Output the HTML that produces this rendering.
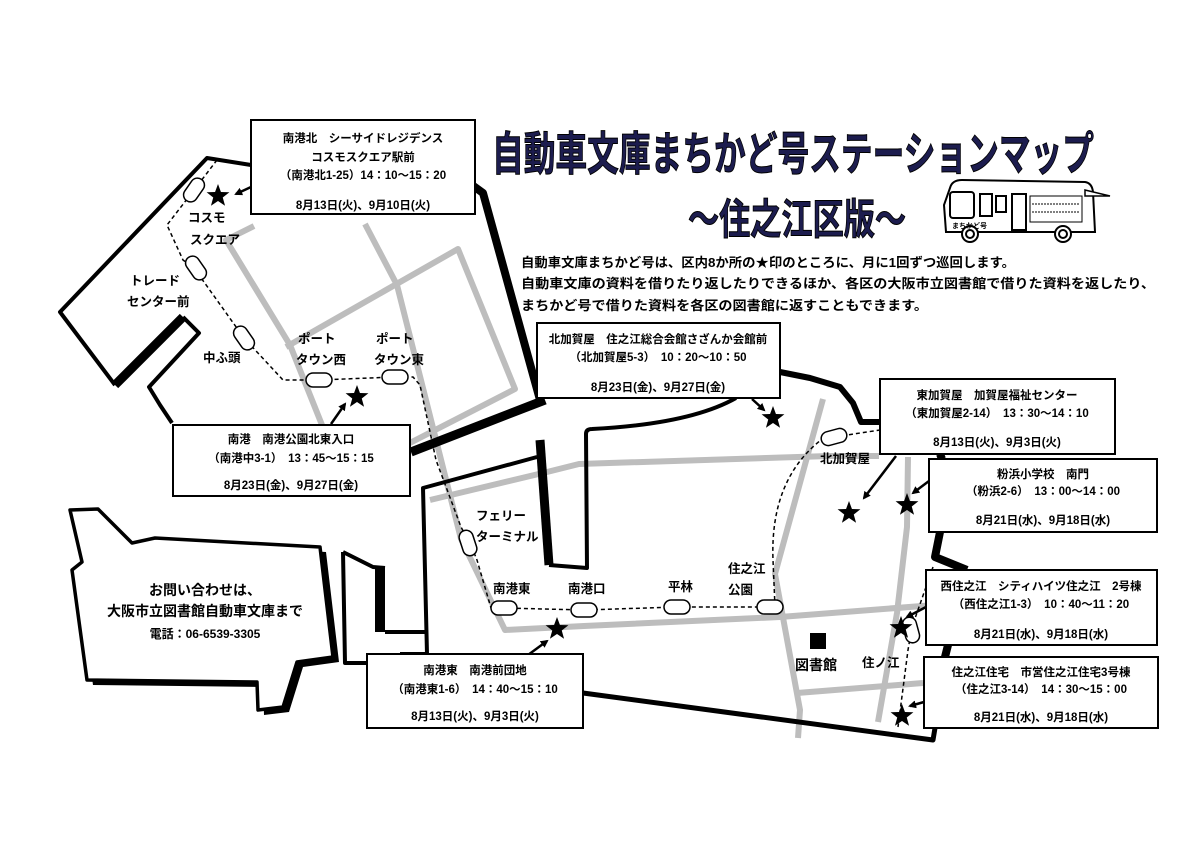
<!DOCTYPE html>
<html><head><meta charset="utf-8"><style>
html,body{margin:0;padding:0;background:#fff;}
svg{display:block;}
text{font-family:"Liberation Sans","Noto Sans CJK JP",sans-serif;font-weight:bold;}
</style></head><body>
<svg width="1200" height="848" viewBox="0 0 1200 848" xmlns="http://www.w3.org/2000/svg">
<defs>
<polygon id="st" points="0,-12 2.94,-4.05 11.41,-3.71 4.76,1.55 7.05,9.71 0,5 -7.05,9.71 -4.76,1.55 -11.41,-3.71 -2.94,-4.05" fill="#000"/>
<marker id="ah" markerWidth="8" markerHeight="8" refX="6" refY="4" orient="auto" markerUnits="userSpaceOnUse"><path d="M0,0 L8,4 L0,8 Z" fill="#000"/></marker>
</defs>
<rect width="1200" height="848" fill="#fff"/>

<!-- gray roads -->
<g fill="none" stroke="#bdbdbd" stroke-width="6" stroke-linejoin="round">
<polyline points="254,226 226,240 290,345 330,445"/>
<polyline points="286,347 458,249 515,389 404,446"/>
<polyline points="365,224 397,285 461,539 505,630 584,626 780,617 935,605"/>
<polyline points="430,500 547,472 579,464 829,456 879,456"/>
<polyline points="823,399 775,574 800,710 798,738"/>
<polyline points="908,457 907,527 897,613 878,722"/>
<polyline points="797,693 923,683"/>
</g>

<!-- coast lines -->
<g fill="none" stroke="#000" stroke-linejoin="round">
<polyline stroke-width="4" points="251,165 207,158 60,312 115,385"/>
<line x1="115" y1="385" x2="183" y2="317" stroke-width="9"/>
<polyline stroke-width="4" points="183,317 199,333 149,387 160,405 172,423"/>
<polyline stroke-width="8" points="472,185 483,193 540,400"/>
<line x1="411" y1="452" x2="545" y2="400" stroke-width="9"/>
<polyline stroke-width="4" points="400,654 427,654 423,488 537,457"/>
<line x1="540" y1="440" x2="549" y2="565" stroke-width="9"/>
<path stroke-width="4" d="M549,565 L587,568 L586,434 Q586,429 592,429 Q690,424 736,398"/>
<polyline stroke-width="6" points="780,372 810,378 840,387 853,403 861,422 880,422"/>
<polyline stroke-width="8" points="940,454 942,459"/>
<polyline stroke-width="8" points="940,532 935,557 967,570"/>
<polyline stroke-width="8" points="948,645 945,657"/>
<polyline stroke-width="5" points="583,693 933,740 935,728"/>
<polyline stroke-width="4" points="343,552 373,567 385,568"/>
<polyline stroke-width="10" points="380,568 380,632"/>
<polyline stroke-width="4" points="385,632 427,632"/>
<polyline stroke-width="4" points="343,552 345,663 367,663"/>
</g>

<!-- contact balloon -->
<polygon points="70,510 98,509 132,543 155,538 320,547 333,657 297,662 283,707 258,710 257,682 87,680 72,570 82,562" fill="#000" transform="translate(6,5)"/>
<polygon points="70,510 98,509 132,543 155,538 320,547 333,657 297,662 283,707 258,710 257,682 87,680 72,570 82,562" fill="#fff" stroke="#000" stroke-width="3.5" stroke-linejoin="round"/>
<text x="205" y="595" font-size="14" text-anchor="middle">お問い合わせは、</text>
<text x="205" y="616" font-size="14" text-anchor="middle">大阪市立図書館自動車文庫まで</text>
<text x="205" y="638" font-size="12" text-anchor="middle">電話：06-6539-3305</text>

<!-- dashed route -->
<g fill="none" stroke="#000" stroke-width="1.5" stroke-dasharray="4,3">
<polyline points="217,160 194,190 167,225 183,260 194,268 244,338 283,380 319,380 394,377 413,377 420,385 436,460 461,527 470,543 477,560 491,608 504,608 584,610 677,607 770,607"/>
<path d="M775,607 L773,560 Q770,480 821,440 L834,437 L880,430"/>
<polyline points="933,567 912,627 908,650 898,727"/>
</g>

<!-- bubbles -->
<g fill="#fff" stroke="#000" stroke-width="1.5">
<rect x="-13" y="-7" width="26" height="14" rx="7" transform="translate(194,190) rotate(-55)"/>
<rect x="-13" y="-7" width="26" height="14" rx="7" transform="translate(196,268) rotate(55)"/>
<rect x="-13" y="-7" width="26" height="14" rx="7" transform="translate(244,338) rotate(55)"/>
<rect x="-13" y="-7" width="26" height="14" rx="7" transform="translate(319,380)"/>
<rect x="-13" y="-7" width="26" height="14" rx="7" transform="translate(395,377)"/>
<rect x="-13" y="-7" width="26" height="14" rx="7" transform="translate(468,543) rotate(72)"/>
<rect x="-13" y="-7" width="26" height="14" rx="7" transform="translate(504,608)"/>
<rect x="-13" y="-7" width="26" height="14" rx="7" transform="translate(584,610)"/>
<rect x="-13" y="-7" width="26" height="14" rx="7" transform="translate(677,607)"/>
<rect x="-13" y="-7" width="26" height="14" rx="7" transform="translate(770,607)"/>
<rect x="-13" y="-7" width="26" height="14" rx="7" transform="translate(834,437) rotate(-15)"/>
<rect x="-13" y="-7" width="26" height="14" rx="7" transform="translate(911,630) rotate(75)"/>
</g>

<!-- map labels -->
<g font-size="12.5">
<text x="188" y="222">コスモ</text>
<text x="190" y="244">スクエア</text>
<text x="130" y="285">トレード</text>
<text x="127" y="306">センター前</text>
<text x="203" y="362">中ふ頭</text>
<text x="298" y="343">ポート</text>
<text x="296" y="364">タウン西</text>
<text x="376" y="343">ポート</text>
<text x="374" y="364">タウン東</text>
<text x="476" y="520">フェリー</text>
<text x="476" y="541">ターミナル</text>
<text x="493" y="593">南港東</text>
<text x="568" y="593">南港口</text>
<text x="668" y="591">平林</text>
<text x="728" y="573">住之江</text>
<text x="728" y="594">公園</text>
<text x="820" y="463">北加賀屋</text>
<text x="795" y="670" font-size="14">図書館</text>
<text x="862" y="667">住ノ江</text>
</g>
<rect x="810" y="633" width="16" height="16" fill="#000"/>

<!-- stars -->
<use href="#st" x="218" y="196"/>
<use href="#st" x="357" y="397"/>
<use href="#st" x="773" y="418"/>
<use href="#st" x="849" y="513"/>
<use href="#st" x="907" y="505"/>
<use href="#st" x="901" y="628"/>
<use href="#st" x="902" y="716"/>
<use href="#st" x="557" y="629"/>

<!-- arrows -->
<g stroke="#000" stroke-width="2.5" marker-end="url(#ah)">
<line x1="251" y1="187" x2="236" y2="194"/>
<line x1="331" y1="424" x2="345" y2="404"/>
<line x1="752" y1="399" x2="764" y2="410"/>
<line x1="896" y1="456" x2="864" y2="498"/>
<line x1="929" y1="481" x2="913" y2="493"/>
<line x1="926" y1="607" x2="907" y2="617"/>
<line x1="924" y1="702" x2="910" y2="706"/>
<line x1="528" y1="655" x2="547" y2="641"/>
</g>

<!-- boxes -->
<g fill="#fff" stroke="#000" stroke-width="2">
<rect x="251" y="120" width="224" height="94"/>
<rect x="173" y="425" width="237" height="71"/>
<rect x="537" y="323" width="243" height="75"/>
<rect x="880" y="379" width="235" height="75"/>
<rect x="929" y="459" width="228" height="73"/>
<rect x="926" y="570" width="231" height="75"/>
<rect x="924" y="657" width="234" height="71"/>
<rect x="367" y="654" width="216" height="74"/>
</g>
<g font-size="11.5" text-anchor="middle">
<text x="363" y="142">南港北　シーサイドレジデンス</text>
<text x="363" y="161">コスモスクエア駅前</text>
<text x="363" y="179">（南港北1-25）14：10～15：20</text>
<text x="363" y="209">8月13日(火)、9月10日(火)</text>

<text x="291" y="443">南港　南港公園北東入口</text>
<text x="291" y="462">（南港中3-1）　13：45～15：15</text>
<text x="291" y="489">8月23日(金)、9月27日(金)</text>

<text x="658" y="343">北加賀屋　住之江総合会館さざんか会館前</text>
<text x="658" y="361">（北加賀屋5-3）　10：20～10：50</text>
<text x="658" y="391">8月23日(金)、9月27日(金)</text>

<text x="997" y="399">東加賀屋　加賀屋福祉センター</text>
<text x="997" y="417">（東加賀屋2-14）　13：30～14：10</text>
<text x="997" y="446">8月13日(火)、9月3日(火)</text>

<text x="1043" y="478">粉浜小学校　南門</text>
<text x="1043" y="495">（粉浜2-6）　13：00～14：00</text>
<text x="1043" y="524">8月21日(水)、9月18日(水)</text>

<text x="1041" y="590">西住之江　シティハイツ住之江　2号棟</text>
<text x="1041" y="608">（西住之江1-3）　10：40～11：20</text>
<text x="1041" y="638">8月21日(水)、9月18日(水)</text>

<text x="1041" y="676">住之江住宅　市営住之江住宅3号棟</text>
<text x="1041" y="693">（住之江3-14）　14：30～15：00</text>
<text x="1041" y="721">8月21日(水)、9月18日(水)</text>

<text x="475" y="674">南港東　南港前団地</text>
<text x="475" y="693">（南港東1-6）　14：40～15：10</text>
<text x="475" y="720">8月13日(火)、9月3日(火)</text>
</g>

<!-- title -->
<text x="492" y="170" font-size="46" fill="#1c1c4e" textLength="602" lengthAdjust="spacingAndGlyphs" stroke="#000" stroke-width="1">自動車文庫まちかど号ステーションマップ</text>
<text x="688" y="234" font-size="42" fill="#1c1c4e" textLength="218" lengthAdjust="spacingAndGlyphs" stroke="#000" stroke-width="1">～住之江区版～</text>

<g font-size="13">
<text x="521" y="267" textLength="494" lengthAdjust="spacingAndGlyphs">自動車文庫まちかど号は、区内8か所の★印のところに、月に1回ずつ巡回します。</text>
<text x="521" y="288" textLength="634" lengthAdjust="spacingAndGlyphs">自動車文庫の資料を借りたり返したりできるほか、各区の大阪市立図書館で借りた資料を返したり、</text>
<text x="521" y="310" textLength="407" lengthAdjust="spacingAndGlyphs">まちかど号で借りた資料を各区の図書館に返すこともできます。</text>
</g>

<!-- bus -->
<g fill="#fff" stroke="#000" stroke-width="2">
<path d="M950,188 Q952,180 962,180 L1085,182 Q1092,183 1093,192 L1095,232 L946,232 L944,205 Z"/>
<path d="M1085,190 L1110,196 L1085,196 Z" stroke-width="1.5"/>
<rect x="950" y="192" width="24" height="26" rx="3"/>
<rect x="980" y="194" width="12" height="22"/>
<rect x="996" y="196" width="10" height="16"/>
<rect x="1012" y="194" width="14" height="36"/>
<rect x="1030" y="196" width="52" height="26" stroke-width="1"/>
<line x1="1032" y1="204" x2="1080" y2="204" stroke-width="1" stroke-dasharray="2,1"/>
<line x1="1032" y1="212" x2="1080" y2="212" stroke-width="1" stroke-dasharray="2,1"/>
<circle cx="970" cy="234" r="8"/>
<circle cx="970" cy="234" r="4"/>
<circle cx="1063" cy="234" r="8"/>
<circle cx="1063" cy="234" r="4"/>
</g>
<text x="952" y="228" font-size="7">まちかど号</text>
</svg>
</body></html>
